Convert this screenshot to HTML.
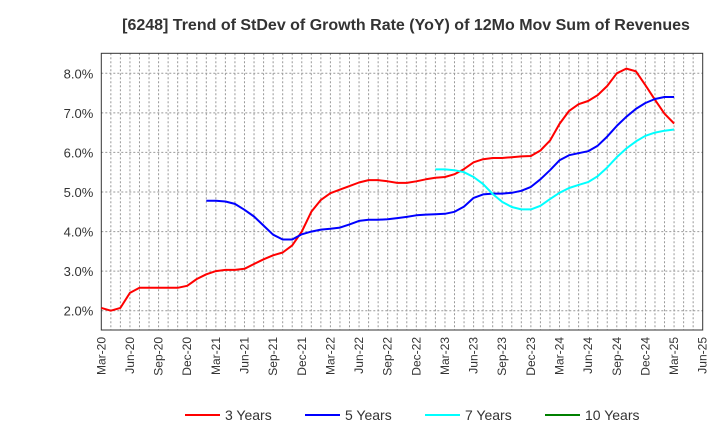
<!DOCTYPE html>
<html><head><meta charset="utf-8"><style>
body{margin:0;background:#fff;}
svg{display:block;font-family:"Liberation Sans",sans-serif;}
</style></head><body>
<svg id="chart" width="720" height="440" viewBox="0 0 720 440" xmlns="http://www.w3.org/2000/svg">
<text x="406" y="30" text-anchor="middle" font-size="16" font-weight="bold" fill="#333">[6248]  Trend of StDev of Growth Rate (YoY) of 12Mo Mov Sum of Revenues</text>
<g id="grid"></g>
<g id="axes"></g>
<g id="series"></g>
<g id="legend"></g>
</svg>
<script>
const xTickLabels = ["Mar-20","Jun-20","Sep-20","Dec-20","Mar-21","Jun-21","Sep-21","Dec-21","Mar-22","Jun-22","Sep-22","Dec-22","Mar-23","Jun-23","Sep-23","Dec-23","Mar-24","Jun-24","Sep-24","Dec-24","Mar-25","Jun-25"];
const yTicks = [2,3,4,5,6,7,8];
const red3y = [2.07,2.0,2.07,2.45,2.58,2.58,2.58,2.58,2.58,2.63,2.8,2.92,3.0,3.03,3.03,3.06,3.18,3.3,3.4,3.47,3.65,4.0,4.5,4.8,4.97,5.06,5.15,5.24,5.3,5.3,5.27,5.23,5.23,5.27,5.32,5.36,5.38,5.45,5.58,5.75,5.83,5.86,5.86,5.88,5.9,5.91,6.05,6.3,6.72,7.05,7.22,7.3,7.45,7.68,8.0,8.12,8.05,7.7,7.33,6.98,6.73];
const blue5yStart = 11;
const blue5y = [4.78,4.78,4.76,4.7,4.55,4.38,4.15,3.92,3.8,3.8,3.93,4.0,4.05,4.07,4.1,4.18,4.27,4.3,4.3,4.31,4.34,4.37,4.41,4.43,4.44,4.45,4.5,4.63,4.85,4.94,4.96,4.96,4.98,5.03,5.13,5.32,5.55,5.8,5.93,5.98,6.03,6.17,6.4,6.67,6.9,7.1,7.25,7.35,7.4,7.4];
const cyan7yStart = 35;
const cyan7y = [5.57,5.57,5.55,5.5,5.38,5.2,4.95,4.75,4.62,4.56,4.56,4.65,4.82,4.98,5.1,5.18,5.25,5.4,5.62,5.88,6.1,6.28,6.42,6.5,6.55,6.58];
const green10y = [];
const legendLabels = ["3 Years","5 Years","7 Years","10 Years"];
const legendColors = ["#ff0000","#0000ff","#00ffff","#008000"];

const NS="http://www.w3.org/2000/svg";
const L=101.3,R=702.7,T=53.3,B=330,months=63;
const xs=m=>L+(R-L)*m/months;
const ys=v=>73.3+(8-v)*(310.7-73.3)/6;
function mk(tag,attrs,parent){const e=document.createElementNS(NS,tag);for(const k in attrs)e.setAttribute(k,attrs[k]);parent.appendChild(e);return e;}
const grid=document.getElementById('grid'),axes=document.getElementById('axes'),series=document.getElementById('series'),legend=document.getElementById('legend');
for(let m=1;m<months;m++){const gl=mk('line',{x1:xs(m),x2:xs(m),y1:T,y2:B,stroke:'#999','stroke-dasharray':'2,2','stroke-width':1},grid);

}
yTicks.forEach(v=>{const gl=mk('line',{x1:L,x2:R,y1:ys(v),y2:ys(v),stroke:'#999','stroke-dasharray':'2,2','stroke-width':1},grid);


const t=mk('text',{x:L-8,y:ys(v)+5,'text-anchor':'end','font-size':13,fill:'#333'},axes);t.textContent=v.toFixed(1)+'%';

});
const frame=mk('rect',{x:L,y:T,width:R-L,height:B-T,fill:'none',stroke:'#333','stroke-width':1},axes);


xTickLabels.forEach((s,i)=>{const x=xs(i*3);const t=mk('text',{x:0,y:0,'text-anchor':'end','font-size':12,fill:'#333',transform:`translate(${x+4},${B+7}) rotate(-90)`},axes);t.textContent=s;

});
function line(data,start,color,name){if(!data.length)return;const pts=data.map((v,i)=>xs(start+i).toFixed(1)+','+ys(v).toFixed(1)).join(' ');
const p=mk('polyline',{points:pts,fill:'none',stroke:color,'stroke-width':2,'stroke-linejoin':'round'},series);

}
line(red3y,0,'#ff0000','line-3-years');
line(blue5y,blue5yStart,'#0000ff','line-5-years');
line(cyan7y,cyan7yStart,'#00ffff','line-7-years');
line(green10y,0,'#008000','line-10-years');
legendLabels.forEach((s,i)=>{const x0=185+i*120;
const g=mk('g',{},legend);


mk('line',{x1:x0,x2:x0+35,y1:415,y2:415,stroke:legendColors[i],'stroke-width':2},g);
const t=mk('text',{x:x0+40,y:420,'font-size':14,fill:'#333'},g);t.textContent=s;});
</script>
</body></html>
